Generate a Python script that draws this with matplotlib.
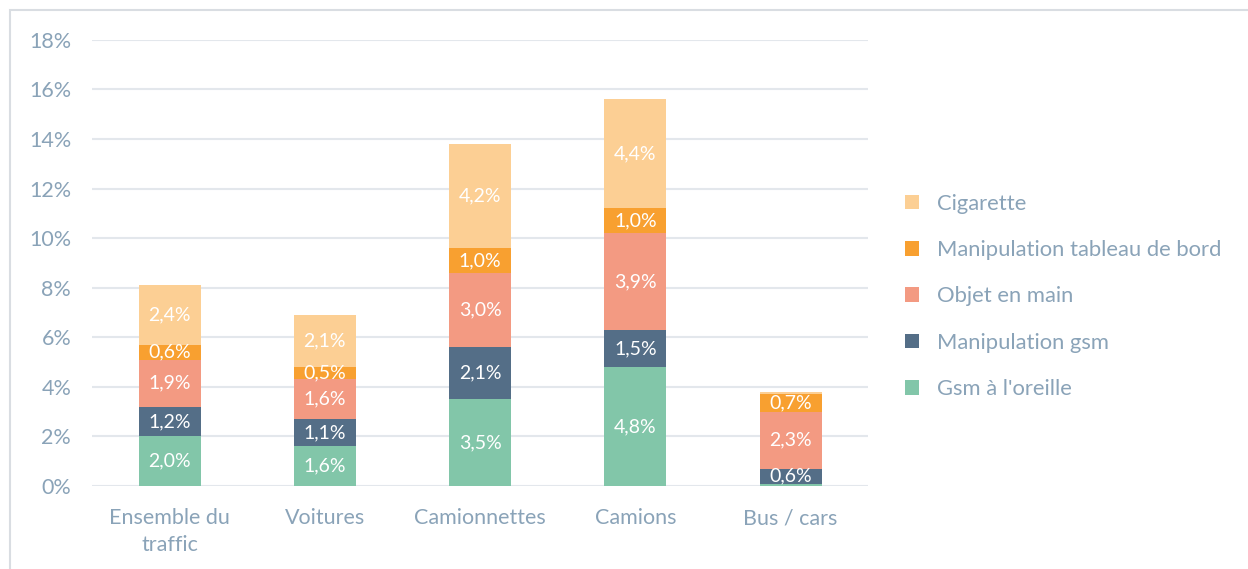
import numpy as np
import matplotlib.pyplot as plt
from matplotlib.patches import Rectangle

plt.rcParams['font.family'] = ['Lato', 'DejaVu Sans']

categories = ['Ensemble du\ntraffic', 'Voitures', 'Camionnettes', 'Camions', 'Bus / cars']
series_names = ["Gsm à l'oreille", 'Manipulation gsm', 'Objet en main',
                'Manipulation tableau de bord', 'Cigarette']
gsm_oreille = [2.0, 1.6, 3.5, 4.8, 0.1]
manip_gsm = [1.2, 1.1, 2.1, 1.5, 0.6]
objet_main = [1.9, 1.6, 3.0, 3.9, 2.3]
manip_tableau = [0.6, 0.5, 1.0, 1.0, 0.7]
cigarette = [2.4, 2.1, 4.2, 4.4, 0.1]
colors = ['#82C6A9', '#546E87', '#F39A82', '#F8A030', '#FCCF94']

values = [gsm_oreille, manip_gsm, objet_main, manip_tableau, cigarette]
text_color = '#8AA3B8'

fig = plt.figure(figsize=(12.48, 5.69), dpi=100)
ax = fig.add_axes([0.0737, 0.1459, 0.622, 0.784])

# outer frame
fig.patches.append(Rectangle((10 / 1248, -0.01), 1.0, (569 - 10) / 569 + 0.01,
                             transform=fig.transFigure, fill=False,
                             edgecolor='#D9DDE2', linewidth=1.5))

x = np.arange(len(categories))
bottom = np.zeros(len(categories))
handles = []
for name, vals, col in zip(series_names, values, colors):
    vals = np.array(vals)
    bars = ax.bar(x, vals, 0.4, bottom=bottom, color=col, label=name, zorder=3)
    handles.append(bars)
    for xi, v, b in zip(x, vals, bottom):
        if v >= 0.3:
            ax.text(xi, b + v / 2, f'{v:.1f}%'.replace('.', ','), ha='center',
                    va='center', color='white', fontsize=14, zorder=4)
    bottom += vals

ax.set_ylim(0, 18)
ax.set_xlim(-0.5, len(categories) - 0.5)
ax.set_yticks(np.arange(0, 19, 2))
ax.set_yticklabels([f'{t}%' for t in range(0, 19, 2)])
ax.set_xticks(x)
ax.set_xticklabels(categories, linespacing=1.45)
ax.tick_params(length=0, labelsize=15.5, colors=text_color)
ax.tick_params(axis='x', pad=16)
ax.tick_params(axis='y', pad=15)
ax.yaxis.grid(True, color='#E3E7EC', linewidth=1.5, zorder=0)
for s in ax.spines.values():
    s.set_visible(False)

leg = ax.legend(handles[::-1], series_names[::-1], loc='center left',
                bbox_to_anchor=(1.022, 0.425), frameon=False, fontsize=15.8,
                labelcolor=text_color, handlelength=0.65, handleheight=0.65,
                labelspacing=1.2, handletextpad=0.8)

plt.savefig('out.png', dpi=100)
plt.close()
